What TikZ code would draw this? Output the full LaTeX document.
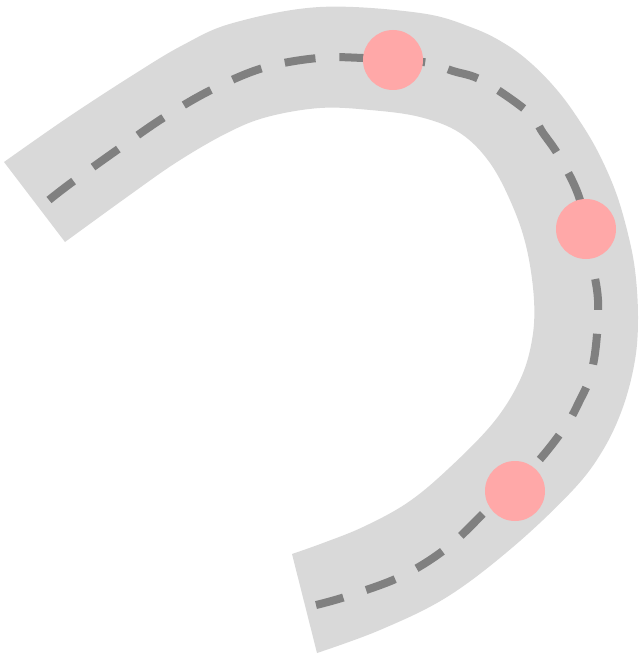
\documentclass[tikz,border=0pt]{standalone}
\begin{document}
\begin{tikzpicture}[x=1pt,y=-1pt,
  roadfill/.style={fill={rgb,255:red,217;green,217;blue,217}, draw=none},
  laneline/.style={draw={rgb,255:red,128;green,128;blue,128}, line width=8pt, dash pattern=on 31pt off 24pt},
  car/.style={circle, fill={rgb,255:red,255;green,168;blue,168}, draw=none, minimum size=60pt, inner sep=0pt}]
\useasboundingbox (0,0) rectangle (638,655);
\fill[roadfill] plot[smooth, tension=0.6] coordinates {(4,162) (67,118) (133,75) (183,45) (233,23) (320,7) (420,13) (473,28) (507,45) (533,65) (557,90) (577,117) (597,150) (615,190) (627,230) (635,270) (638,317) (635,360) (623,407) (603,450) (573,490) (513,547) (447,597) (380,630) (317,653)}
 -- plot[smooth, tension=0.6] coordinates {(292,554) (323,543) (363,527) (407,503) (447,470) (493,423) (520,380) (532,340) (534,300) (527,250) (513,207) (490,163) (460,133) (420,117) (370,110) (320,108) (267,117) (227,133) (177,162) (127,197) (65,242)} -- cycle;
\draw[laneline] plot[smooth, tension=0.6] coordinates {(49,200) (71,183) (117,150) (163,118) (211,90) (263,68) (318,58) (363,58) (423,62) (453,71) (483,81) (528,112) (543,133) (560,158) (580,200) (591,258) (598,300) (596,345) (590,377) (580,400) (565,427) (533,467) (490,507) (448,547) (402,576) (348,596) (316,605)};
\node[car] (c1) at (393,60) {};
\node[car] (c2) at (586,229) {};
\node[car] (c3) at (515,491) {};
\end{tikzpicture}
\end{document}
